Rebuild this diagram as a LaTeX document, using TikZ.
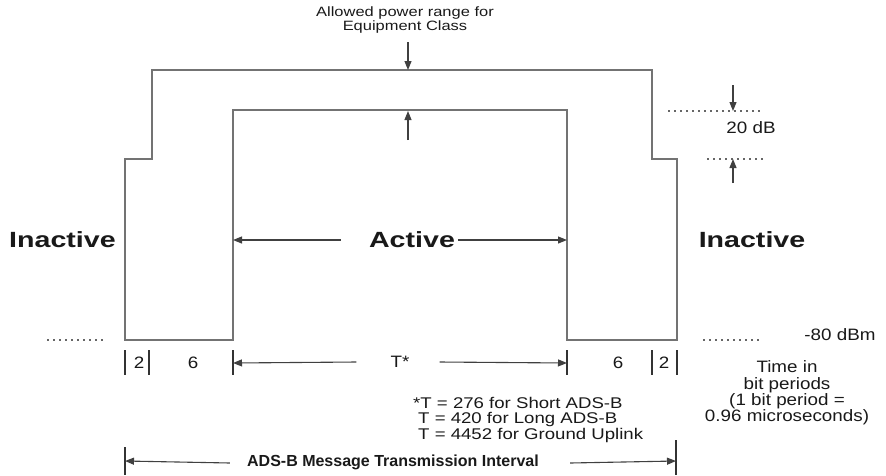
\documentclass[tikz,border=0pt]{standalone}
\usepackage{fontspec}
\setmainfont{Liberation Sans}
\usetikzlibrary{arrows.meta}
\begin{document}
\begin{tikzpicture}[x=1pt,y=-1pt,
  env/.style={draw=black!55, line width=1.2pt},
  tick/.style={draw=black!80, line width=1.2pt},
  arr/.style={draw=black!75, line width=1.1pt, -{Triangle[length=9pt,width=7pt]}},
  dots/.style={draw=black!60, line width=1.2pt, dash pattern=on 1.5pt off 4.5pt},
  txt/.style={text=black!90, font=\fontsize{16.5}{16.5}\selectfont, xscale=1.14, inner sep=0pt},
  note/.style={text=black!90, font=\fontsize{15.5}{15.5}\selectfont, xscale=1.2, inner sep=0pt, anchor=west},
  big/.style={text=black!90, font=\fontsize{22}{22}\selectfont\bfseries, xscale=1.3, inner sep=0pt},
  bold/.style={text=black!90, font=\fontsize{16}{16}\selectfont\bfseries, inner sep=0pt},
  small/.style={text=black!90, font=\fontsize{13.5}{13.5}\selectfont, xscale=1.22, inner sep=0pt, align=center}
]
\useasboundingbox (0,0) rectangle (886,475);

% envelope
\draw[env] (125,340) -- (125,159) -- (152,159) -- (152,70) -- (652,70) -- (652,159)
  -- (677,159) -- (677,340) -- (567,340) -- (567,110) -- (233,110) -- (233,340) -- cycle;

% allowed power range
\node[small] (allowed) at (405,20) {Allowed power range for\\Equipment Class};
\coordinate (ad1) at (408,42); \coordinate (ad2) at (408,70);
\coordinate (au1) at (408,140); \coordinate (au2) at (408,111);
\draw[arr] (ad1) -- (ad2);
\draw[arr] (au1) -- (au2);

% 20 dB
\coordinate (d1a) at (668,111); \coordinate (d1b) at (764,111);
\coordinate (d2a) at (707,159); \coordinate (d2b) at (764,159);
\draw[dots] (d1a) -- (d1b);
\draw[dots] (d2a) -- (d2b);
\coordinate (e1) at (733,85); \coordinate (e2) at (733,111);
\coordinate (f1) at (733,183); \coordinate (f2) at (733,159);
\draw[arr] (e1) -- (e2);
\draw[arr] (f1) -- (f2);
\node[txt] (db) at (751,128) {20 dB};

% inactive / active
\node[big] (inl) at (62.5,240) {Inactive};
\node[big] (inr) at (752,240) {Inactive};
\node[big] (act) at (412,240) {Active};
\coordinate (al) at (233,240); \coordinate (arr) at (567,240);
\draw[arr] ([xshift=-28pt]act.west) -- (al);
\draw[arr] ([xshift=3pt]act.east) -- (arr);

% -80 dBm
\coordinate (l1) at (47,340); \coordinate (l2) at (106,340);
\coordinate (r1) at (703,340); \coordinate (r2) at (763,340);
\draw[dots] (l1) -- (l2);
\draw[dots] (r1) -- (r2);
\node[txt] (dbm) at (840,335) {-80 dBm};

% bit period ticks
\foreach \x/\n in {125/ta,149/tb,233/tc,567/td,652/te,677/tf}{
  \coordinate (\n1) at (\x,350); \coordinate (\n2) at (\x,375);
  \draw[tick] (\n1) -- (\n2);
}
\node[txt] (two1) at (139,363) {2};
\node[txt] (six1) at (193,363) {6};
\node[txt] (six2) at (618,363) {6};
\node[txt] (two2) at (664,363) {2};
\node[txt] (tstar) at (400,362) {T*};
\coordinate (tl) at (233,363); \coordinate (tr) at (567,363);
\draw[arr] ([xshift=-34pt]tstar.west) -- (tl);
\draw[arr] ([xshift=30pt]tstar.east) -- (tr);

% time in bit periods
\node[txt, align=center, font=\fontsize{16.5}{16.3}\selectfont] (time) at (787,393)
  {Time in\\bit periods\\(1 bit period =\\0.96 microseconds)};

% notes
\node[note] (n1) at (413,403) {*T = 276 for Short ADS-B};
\node[note] (n2) at (418,419) {T = 420 for Long ADS-B};
\node[note] (n3) at (418,435) {T = 4452 for Ground Uplink};

% message interval
\coordinate (ma1) at (125,447); \coordinate (ma2) at (125,475);
\coordinate (mb1) at (676,440); \coordinate (mb2) at (676,475);
\draw[tick] (ma1) -- (ma2);
\draw[tick] (mb1) -- (mb2);
\node[bold] (msg) at (393,462) {ADS-B Message Transmission Interval};
\coordinate (ml) at (125,461); \coordinate (mr) at (676,461);
\draw[arr] ([xshift=-17pt,yshift=-1pt]msg.west) -- (ml);
\draw[arr] ([xshift=31pt,yshift=-1pt]msg.east) -- (mr);
\end{tikzpicture}
\end{document}
